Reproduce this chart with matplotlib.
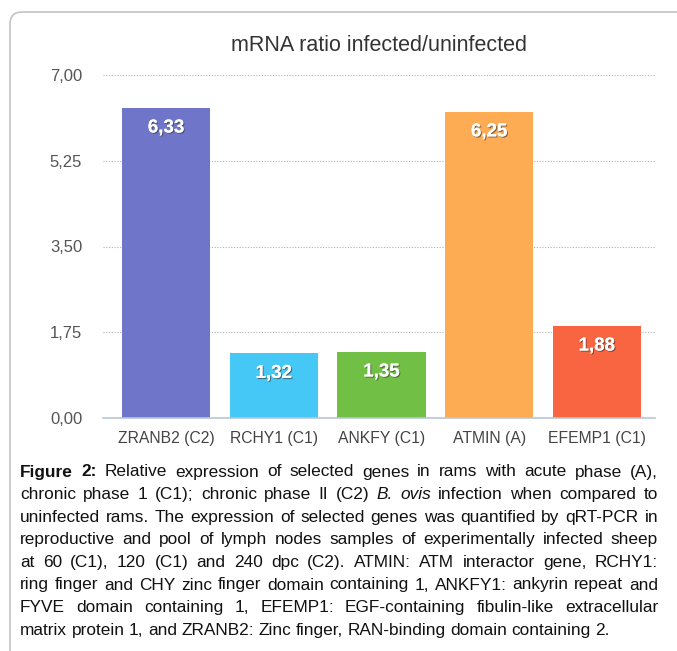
import matplotlib.pyplot as plt
import matplotlib.patheffects as pe
from matplotlib.patches import FancyBboxPatch

# dados do gráfico
genes = ["ZRANB2 (C2)", "RCHY1 (C1)", "ANKFY (C1)", "ATMIN (A)", "EFEMP1 (C1)"]
valores = [6.33, 1.32, 1.35, 6.25, 1.88]
rotulos = ["6,33", "1,32", "1,35", "6,25", "1,88"]
cores = ["#6f76c9", "#45c8f5", "#71bf44", "#fdac53", "#f86540"]
ticks_y = [0, 1.75, 3.5, 5.25, 7]
ticks_y_txt = ["0,00", "1,75", "3,50", "5,25", "7,00"]

legenda = [
    "Figure 2: Relative expression of selected genes in rams with acute phase (A),",
    "chronic phase 1 (C1); chronic phase II (C2) B. ovis infection when compared to",
    "uninfected rams. The expression of selected genes was quantified by qRT-PCR in",
    "reproductive and pool of lymph nodes samples of experimentally infected sheep",
    "at 60 (C1), 120 (C1) and 240 dpc (C2). ATMIN: ATM interactor gene, RCHY1:",
    "ring finger and CHY zinc finger domain containing 1, ANKFY1: ankyrin repeat and",
    "FYVE domain containing 1, EFEMP1: EGF-containing fibulin-like extracellular",
    "matrix protein 1, and ZRANB2: Zinc finger, RAN-binding domain containing 2.",
]

plt.rcParams["font.family"] = ["Liberation Sans", "DejaVu Sans"]

W, H = 677, 651
fig = plt.figure(figsize=(W / 100, H / 100), dpi=100)

# fundo em coordenadas de pixel (moldura + legenda)
bg = fig.add_axes([0, 0, 1, 1], zorder=-1)
bg.set_xlim(0, W)
bg.set_ylim(H, 0)
bg.axis("off")
moldura = FancyBboxPatch((10, 12), W + 40, H + 40,
                         boxstyle="round,pad=0,rounding_size=12",
                         fc="white", ec="#c4c4c4", lw=1.2)
bg.add_patch(moldura)

# gráfico de barras
ax = fig.add_axes([103 / W, 1 - 418 / H, (655 - 103) / W, (418 - 75) / H])
x = list(range(len(genes)))
ax.bar(x, valores, width=0.82, color=cores, zorder=2)
ax.set_xlim(-0.585, 4.54)
ax.set_ylim(0, 7)
ax.set_yticks(ticks_y)
ax.set_yticklabels(ticks_y_txt)
ax.set_xticks(x)
ax.set_xticklabels(genes)
ax.tick_params(axis="y", length=0, pad=15, labelsize=12, labelcolor="#555555")
ax.tick_params(axis="x", length=0, pad=9, labelsize=11.3, labelcolor="#444444")
ax.grid(axis="y", linestyle=(0, (1, 1.5)), color="#b0b0b0", lw=0.8, zorder=0)
for s in ["top", "right", "left"]:
    ax.spines[s].set_visible(False)
ax.spines["bottom"].set_color("#b8c6d4")
ax.spines["bottom"].set_linewidth(1.2)
ax.set_title("mRNA ratio infected/uninfected", fontsize=15.5,
             color="#333333", pad=17)

sombra = [pe.withSimplePatchShadow(offset=(0.8, -0.8), shadow_rgbFace="#333333", alpha=0.6),
          pe.Normal()]
for xi, v, r in zip(x, valores, rotulos):
    ax.annotate(r, (xi, v), xytext=(0, -14.5), textcoords="offset points",
                ha="center", va="center", color="white", fontsize=13.5,
                fontweight="bold", path_effects=sombra, zorder=3)

# legenda justificada
fig.canvas.draw()
renderer = fig.canvas.get_renderer()
esq, dir_ = 20, 658
y0, dy = 472, 22.6
for i, linha in enumerate(legenda):
    palavras = linha.split()
    textos = []
    for j, p in enumerate(palavras):
        peso = "bold" if (i == 0 and j < 2) else "normal"
        estilo = "italic" if (i == 1 and p in ("B.", "ovis")) else "normal"
        t = bg.text(0, y0 + i * dy, p, fontsize=12.4, fontweight=peso,
                    fontstyle=estilo, color="#111111", va="center", ha="left")
        textos.append(t)
    larguras = [t.get_window_extent(renderer).width for t in textos]
    if i < len(legenda) - 1:
        gap = (dir_ - esq - sum(larguras)) / (len(textos) - 1)
    else:
        gap = 4.5
    pos = esq
    for t, w in zip(textos, larguras):
        t.set_x(pos)
        pos += w + gap

fig.savefig("out.png", dpi=100)
